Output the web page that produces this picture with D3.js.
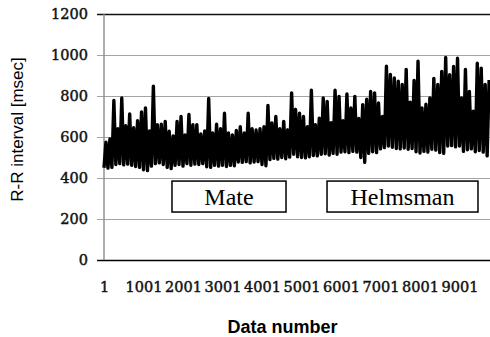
<!DOCTYPE html>
<html>
<head>
<meta charset="utf-8">
<script src="https://cdn.jsdelivr.net/npm/d3@7"></script>
<style>
  body { margin: 0; background: #fff; }
  svg { display: block; }
</style>
</head>
<body>
<svg width="490" height="337"></svg>
<script>
// R-R interval record, read off the picture as alternating troughs / peaks
// one value every 50 data numbers (trough, peak, trough, peak ...)
const step = 50;
const troughs = [
  450, 448, 452, 466, 470, 464, 468, 462, 456, 452,
  440, 436, 458, 470, 474, 466, 452, 446, 462, 466,
  458, 470, 462, 468, 466, 470, 455, 452, 462, 458,
  462, 456, 462, 460, 478, 476, 480, 474, 478, 480,
  466, 460, 490, 496, 492, 500, 494, 502, 516, 504,
  500, 498, 504, 510, 508, 516, 518, 512, 520, 516,
  526, 528, 524, 530, 526, 500, 476, 520, 528, 524,
  542, 548, 556, 550, 544, 542, 546, 540, 544, 528,
  522, 530, 526, 540, 536, 524, 520, 556, 558, 552,
  556, 530, 538, 542, 528, 534, 526, 508
];
const peaks = [
  575, 590, 778, 640, 790, 655, 712, 645, 680, 722,
  742, 630, 848, 660, 662, 676, 628, 605, 676, 700,
  610, 710, 660, 660, 615, 630, 788, 620, 662, 640,
  716, 620, 610, 632, 650, 620, 716, 640, 634, 640,
  650, 754, 668, 700, 640, 676, 635, 815, 735, 716,
  700, 650, 828, 660, 692, 790, 774, 670, 828, 798,
  680, 810, 742, 798, 690, 758, 784, 822, 815, 766,
  700, 945, 905, 888, 872, 856, 930, 770, 876, 970,
  742, 760, 790, 886, 856, 920, 988, 904, 944, 984,
  790, 930, 822, 726, 960, 936, 856, 878
];
const yTicks = [0, 200, 400, 600, 800, 1000, 1200];
const xTicks = [1, 1001, 2001, 3001, 4001, 5001, 6001, 7001, 8001, 9001];
const phases = ["Mate", "Helmsman"];
const phaseFrom = [1722, 5647];
const phaseTo = [4609, 9469];
const boxLow = 234, boxHigh = 385;

const rr = troughs.flatMap((v, k) => [v, peaks[k]]);

const svg = d3.select("svg");
const x = d3.scaleLinear().domain([1, 9773]).range([104, 490]);
const y = d3.scaleLinear().domain([0, 1200]).range([260, 14]);

const tickFont = "14.5px 'DejaVu Serif'";

// y axis + grid
const gy = svg.append("g")
  .attr("transform", "translate(104,0)")
  .call(d3.axisLeft(y).tickValues(yTicks).tickSize(-386).tickPadding(16).tickFormat(d3.format("d")));
gy.select(".domain").remove();
gy.selectAll(".tick line")
  .attr("x1", -7)
  .attr("stroke", d => d == 1200 ? "#111" : d == 0 ? "#000" : "#a3a3a3")
  .attr("stroke-width", d => d == 1200 || d == 0 ? 1.4 : 1);
gy.selectAll(".tick text")
  .attr("fill", "#111")
  .attr("stroke", "#111")
  .attr("stroke-width", 0.45)
  .style("font", tickFont);
svg.append("line")
  .attr("x1", 104).attr("x2", 104)
  .attr("y1", y(1200)).attr("y2", y(0))
  .attr("stroke", "#8a8a8a").attr("stroke-width", 1.4);

// the record
const line = d3.line()
  .x((d, i) => x(1 + step * i))
  .y(d => y(d));
svg.append("path")
  .datum(rr)
  .attr("d", line)
  .attr("fill", "none")
  .attr("stroke", "#000")
  .attr("stroke-width", 3.4)
  .attr("stroke-linejoin", "round");

// x axis
const gx = svg.append("g")
  .attr("transform", "translate(0,260)")
  .call(d3.axisBottom(x).tickValues(xTicks).tickSize(0).tickFormat(d3.format("d")));
gx.select(".domain").remove();
gx.selectAll(".tick text")
  .attr("y", 22)
  .attr("fill", "#111")
  .attr("stroke", "#111")
  .attr("stroke-width", 0.45)
  .style("font", tickFont);

// phase boxes
const boxes = svg.append("g").selectAll("g")
  .data(phases)
  .join("g");
boxes.append("rect")
  .attr("x", (d, i) => x(phaseFrom[i]))
  .attr("width", (d, i) => x(phaseTo[i]) - x(phaseFrom[i]))
  .attr("y", y(boxHigh))
  .attr("height", y(boxLow) - y(boxHigh))
  .attr("fill", "#fff")
  .attr("stroke", "#000")
  .attr("stroke-width", 1.5);
boxes.append("text")
  .attr("x", (d, i) => (x(phaseFrom[i]) + x(phaseTo[i])) / 2)
  .attr("y", 205)
  .attr("text-anchor", "middle")
  .style("font", "24px 'Liberation Serif'")
  .text(d => d);

// titles
svg.append("text")
  .attr("transform", "translate(22.5,129.5) rotate(-90)")
  .attr("text-anchor", "middle")
  .style("font", "17px 'Liberation Sans'")
  .text("R-R interval [msec]");
svg.append("text")
  .attr("x", 282.5).attr("y", 333)
  .attr("text-anchor", "middle")
  .style("font", "bold 18px 'Liberation Sans'")
  .text("Data number");
</script>
</body>
</html>
